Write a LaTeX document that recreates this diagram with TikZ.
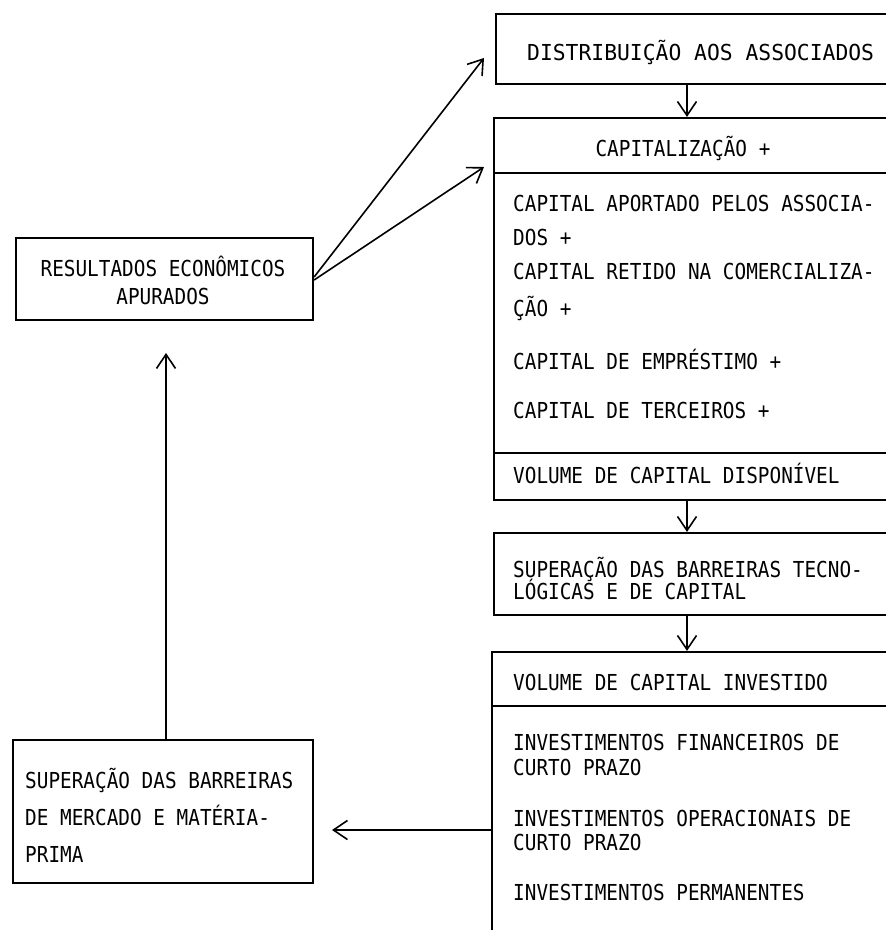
\documentclass[tikz,border=0pt]{standalone}
\usepackage{fontspec}
\newfontfamily\tw[FakeStretch=0.88]{DejaVu Sans Mono}
\newfontfamily\twb[FakeStretch=0.97]{DejaVu Sans Mono}
\usetikzlibrary{arrows.meta}
\begin{document}
\begin{tikzpicture}[x=1pt,y=-1pt,
  box/.style={draw, line width=2.2pt, rectangle, inner sep=0pt},
  txt/.style={font=\tw\fontsize{22}{26}\selectfont, inner sep=0pt, text height=16pt, text depth=0pt, anchor=west},
  ctxt/.style={txt, anchor=center},
  arr/.style={line width=1.6pt, -{Straight Barb[length=14pt,width=19pt,line width=1.6pt]}},
  divider/.style={line width=1.8pt}]
\useasboundingbox (0,0) rectangle (886,930);
\clip (0,0) rectangle (886,930);
% boxes
\node[box, minimum width=404pt, minimum height=70pt] (dist) at (698,49) {};
\node[box, minimum width=406pt, minimum height=382pt] (cap) at (697,309) {};
\node[box, minimum width=406pt, minimum height=82pt] (tec) at (697,574) {};
\node[box, minimum width=408pt, minimum height=308pt] (inv) at (696,806) {};
\node[box, minimum width=297pt, minimum height=82pt] (res) at (164.5,279) {};
\node[box, minimum width=300pt, minimum height=143pt] (mer) at (163,811.5) {};
% dividers
\coordinate (d1) at (0,173);
\coordinate (d2) at (0,453);
\coordinate (d3) at (0,706);
\draw[divider] (cap.west |- d1) -- (cap.east |- d1);
\draw[divider] (cap.west |- d2) -- (cap.east |- d2);
\draw[divider] (inv.west |- d3) -- (inv.east |- d3);
% texts
\node[txt, font=\twb\fontsize{22}{26}\selectfont] (tdist) at (527,52) {DISTRIBUIÇÃO AOS ASSOCIADOS};
\node[ctxt] (tcap) at (683,148) {CAPITALIZAÇÃO +};
\node[txt] (tc1) at (513,203) {CAPITAL APORTADO PELOS ASSOCIA-};
\node[txt] (tc2) at (513,237) {DOS +};
\node[txt] (tc3) at (513,271) {CAPITAL RETIDO NA COMERCIALIZA-};
\node[txt] (tc4) at (513,308) {ÇÃO +};
\node[txt] (tc5) at (513,361) {CAPITAL DE EMPRÉSTIMO +};
\node[txt] (tc6) at (513,410) {CAPITAL DE TERCEIROS +};
\node[txt] (tc7) at (513,475) {VOLUME DE CAPITAL DISPONÍVEL};
\node[txt] (tt1) at (513,569) {SUPERAÇÃO DAS BARREIRAS TECNO-};
\node[txt] (tt2) at (513,591) {LÓGICAS E DE CAPITAL};
\node[txt] (ti0) at (513,682) {VOLUME DE CAPITAL INVESTIDO};
\node[txt] (ti1) at (513,742) {INVESTIMENTOS FINANCEIROS DE};
\node[txt] (ti2) at (513,767) {CURTO PRAZO};
\node[txt] (ti3) at (513,818) {INVESTIMENTOS OPERACIONAIS DE};
\node[txt] (ti4) at (513,842) {CURTO PRAZO};
\node[txt] (ti5) at (513,892) {INVESTIMENTOS PERMANENTES};
\node[ctxt] (tr1) at (163,268) {RESULTADOS ECONÔMICOS};
\node[ctxt] (tr2) at (163,296) {APURADOS};
\node[txt] (tm1) at (25,780) {SUPERAÇÃO DAS BARREIRAS};
\node[txt] (tm2) at (25,817) {DE MERCADO E MATÉRIA-};
\node[txt] (tm3) at (25,854) {PRIMA};
% connectors
\coordinate (ax) at (687,0);
\draw[arr] (dist.south -| ax) -- (cap.north -| ax);
\draw[arr] (cap.south -| ax) -- (tec.north -| ax);
\draw[arr] (tec.south -| ax) -- (inv.north -| ax);
\coordinate (tipA) at (484,58);
\coordinate (tipB) at (484,167);
\draw[arr] ([yshift=2pt]res.east) -- (tipA);
\draw[arr] ([yshift=-1pt]res.east) -- (tipB);
\coordinate (upTip) at (166,353);
\draw[arr] (mer.north -| upTip) -- (upTip);
\coordinate (lTip) at (332,830);
\draw[arr] (inv.west |- lTip) -- (lTip);
\end{tikzpicture}
\end{document}
